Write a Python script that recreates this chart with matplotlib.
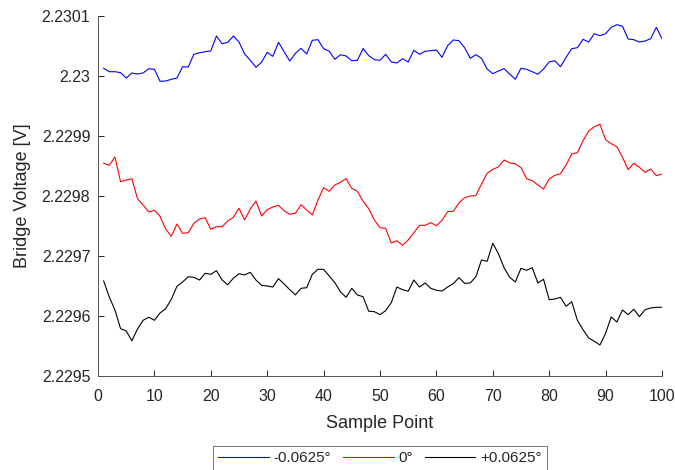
import matplotlib
matplotlib.use("Agg")
import matplotlib.pyplot as plt
import numpy as np

plt.rcParams['font.family'] = ['Liberation Sans', 'DejaVu Sans']

sample_points = list(range(1, 101))

neg_0625 = [
    2.2300125, 2.2300068, 2.2300068, 2.2300052, 2.2299963, 2.2300047, 2.2300030, 2.2300047, 2.2300118, 2.2300108,
    2.2299908, 2.2299913, 2.2299942, 2.2299963, 2.2300151, 2.2300146, 2.2300358, 2.2300384, 2.2300401, 2.2300413,
    2.2300662, 2.2300534, 2.2300557, 2.2300662, 2.2300562, 2.2300363, 2.2300258, 2.2300141, 2.2300225, 2.2300391,
    2.2300324, 2.2300557, 2.2300401, 2.2300246, 2.2300374, 2.2300458, 2.2300363, 2.2300591, 2.2300601, 2.2300451,
    2.2300408, 2.2300275, 2.2300351, 2.2300329, 2.2300251, 2.2300258, 2.2300454, 2.2300336, 2.2300268, 2.2300258,
    2.2300358, 2.2300230, 2.2300213, 2.2300285, 2.2300230, 2.2300424, 2.2300358, 2.2300408, 2.2300418, 2.2300429,
    2.2300308, 2.2300501, 2.2300596, 2.2300584, 2.2300468, 2.2300291, 2.2300351, 2.2300291, 2.2300113, 2.2300035,
    2.2300080, 2.2300118, 2.2300030, 2.2299942, 2.2300125, 2.2300108, 2.2300068, 2.2300025, 2.2300113, 2.2300230,
    2.2300251, 2.2300151, 2.2300308, 2.2300451, 2.2300468, 2.2300607, 2.2300562, 2.2300700, 2.2300667, 2.2300700,
    2.2300807, 2.2300850, 2.2300824, 2.2300612, 2.2300601, 2.2300562, 2.2300579, 2.2300617, 2.2300807, 2.2300617,
]

zero_deg = [
    2.2298544, 2.2298511, 2.2298649, 2.2298238, 2.2298266, 2.2298288, 2.2297955, 2.2297850, 2.2297734, 2.2297762,
    2.2297662, 2.2297451, 2.2297329, 2.2297534, 2.2297379, 2.2297389, 2.2297546, 2.2297617, 2.2297639, 2.2297446,
    2.2297489, 2.2297489, 2.2297584, 2.2297646, 2.2297795, 2.2297601, 2.2297784, 2.2297917, 2.2297667, 2.2297772,
    2.2297817, 2.2297845, 2.2297755, 2.2297696, 2.2297712, 2.2297855, 2.2297767, 2.2297684, 2.2297933, 2.2298138,
    2.2298078, 2.2298183, 2.2298228, 2.2298288, 2.2298128, 2.2298078, 2.2297912, 2.2297790, 2.2297601, 2.2297473,
    2.2297463, 2.2297218, 2.2297256, 2.2297180, 2.2297268, 2.2297389, 2.2297512, 2.2297512, 2.2297556, 2.2297506,
    2.2297596, 2.2297739, 2.2297745, 2.2297884, 2.2297972, 2.2298000, 2.2298005, 2.2298200, 2.2298378, 2.2298444,
    2.2298483, 2.2298599, 2.2298549, 2.2298537, 2.2298471, 2.2298288, 2.2298255, 2.2298183, 2.2298116, 2.2298283,
    2.2298344, 2.2298371, 2.2298516, 2.2298699, 2.2298720, 2.2298920, 2.2299082, 2.2299153, 2.2299193, 2.2298937,
    2.2298870, 2.2298820, 2.2298644, 2.2298438, 2.2298544, 2.2298478, 2.2298394, 2.2298449, 2.2298338, 2.2298366,
]

pos_0625 = [
    2.2296586, 2.2296319, 2.2296103, 2.2295792, 2.2295754, 2.2295592, 2.2295787, 2.2295932, 2.2295982, 2.2295932,
    2.2296053, 2.2296125, 2.2296281, 2.2296498, 2.2296569, 2.2296657, 2.2296647, 2.2296602, 2.2296714, 2.2296697,
    2.2296757, 2.2296602, 2.2296524, 2.2296631, 2.2296707, 2.2296686, 2.2296730, 2.2296602, 2.2296514, 2.2296502,
    2.2296486, 2.2296624, 2.2296536, 2.2296441, 2.2296353, 2.2296464, 2.2296474, 2.2296697, 2.2296780, 2.2296780,
    2.2296669, 2.2296557, 2.2296403, 2.2296314, 2.2296464, 2.2296353, 2.2296324, 2.2296082, 2.2296075, 2.2296025,
    2.2296092, 2.2296225, 2.2296486, 2.2296441, 2.2296414, 2.2296602, 2.2296486, 2.2296552, 2.2296464, 2.2296431,
    2.2296419, 2.2296486, 2.2296541, 2.2296641, 2.2296547, 2.2296552, 2.2296657, 2.2296935, 2.2296913, 2.2297213,
    2.2297040, 2.2296807, 2.2296647, 2.2296569, 2.2296797, 2.2296764, 2.2296807, 2.2296552, 2.2296614, 2.2296275,
    2.2296286, 2.2296314, 2.2296165, 2.2296241, 2.2295932, 2.2295775, 2.2295637, 2.2295582, 2.2295521, 2.2295715,
    2.2295987, 2.2295903, 2.2296103, 2.2296025, 2.2296115, 2.2295992, 2.2296108, 2.2296136, 2.2296148, 2.2296148,
]

series_labels = ['-0.0625°', '0°', '+0.0625°']
x_ticks = [0, 10, 20, 30, 40, 50, 60, 70, 80, 90, 100]
y_ticks = [2.2295, 2.2296, 2.2297, 2.2298, 2.2299, 2.2300, 2.2301]
y_tick_labels = ['2.2295', '2.2296', '2.2297', '2.2298', '2.2299', '2.23', '2.2301']

fig = plt.figure(figsize=(6.75, 4.70), dpi=100)
ax = fig.add_axes([0.1452, 0.1994, 0.8355, 0.7672])

ax.plot(sample_points, neg_0625, color='#0000ff', lw=0.8, label=series_labels[0])
ax.plot(sample_points, zero_deg, color='#ff0000', lw=0.8, label=series_labels[1])
ax.plot(sample_points, pos_0625, color='#000000', lw=0.8, label=series_labels[2])

ax.set_xlim(0, 100)
ax.set_ylim(2.2295, 2.2301)
ax.set_xticks(x_ticks)
ax.set_xticklabels([str(t) for t in x_ticks])
ax.set_yticks(y_ticks)
ax.set_yticklabels(y_tick_labels)

for s in ['top', 'right']:
    ax.spines[s].set_visible(False)
for s in ['left', 'bottom']:
    ax.spines[s].set_color('#555555')
    ax.spines[s].set_linewidth(0.7)
ax.tick_params(direction='in', length=4, width=0.7, color='#262626',
               labelsize=11.5, labelcolor='#262626')
ax.tick_params(axis='x', pad=9)
ax.tick_params(axis='y', pad=5.5)

ax.set_xlabel('Sample Point', fontsize=13, color='#262626', labelpad=8)
ax.set_ylabel('Bridge Voltage [V]', fontsize=13, color='#262626', labelpad=8)

leg = fig.legend(loc='upper center', bbox_to_anchor=(0.5628, 0.0517), ncol=3,
                 fontsize=11, frameon=True, fancybox=False, edgecolor='#555555',
                 handlelength=3.3, columnspacing=0.8, handletextpad=0.3,
                 borderpad=0.35, borderaxespad=0)
leg.get_frame().set_linewidth(0.7)
for t in leg.get_texts():
    t.set_color('#262626')

fig.savefig('out.png', dpi=100)
